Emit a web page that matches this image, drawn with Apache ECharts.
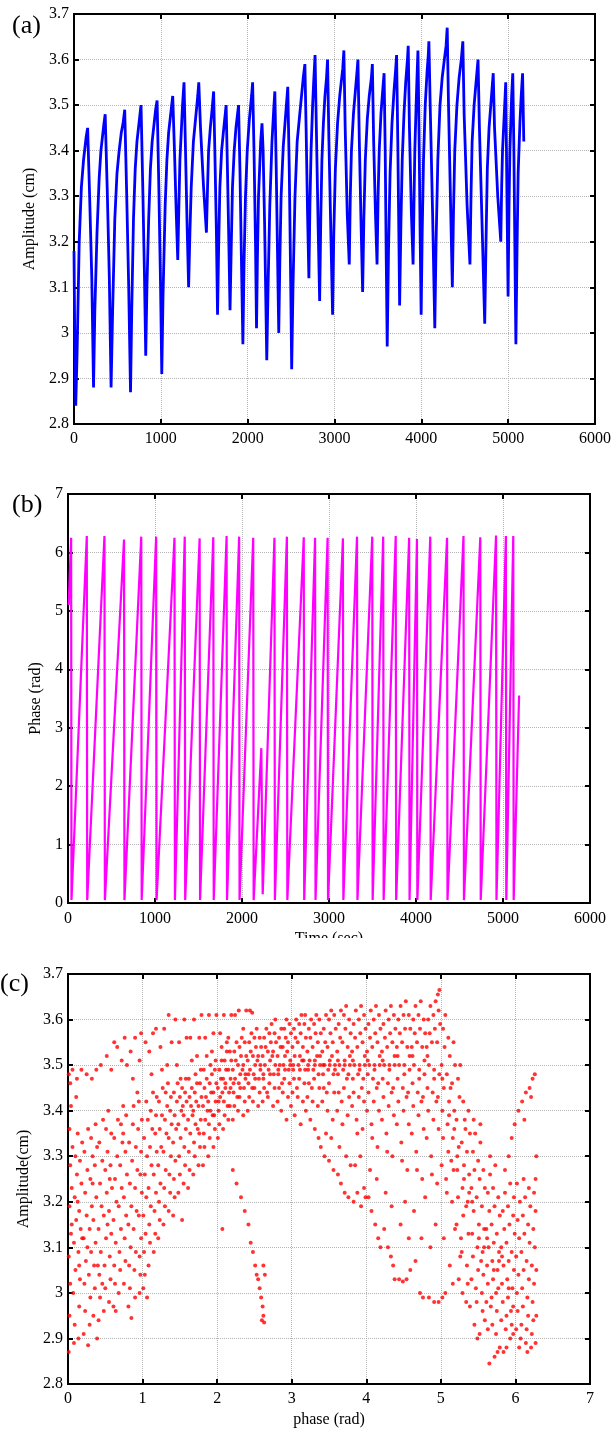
<!DOCTYPE html>
<html><head><meta charset="utf-8">
<script src="https://cdn.jsdelivr.net/npm/echarts/dist/echarts.min.js"></script>
<style>html,body{margin:0;padding:0;background:#fff}#main{width:614px;height:1432px}</style>
</head><body><div id="main"></div>
<script>
// ---------- (a) amplitude vs time : [time, amplitude(cm)] ----------
const ampPoints = [
[0,3.18],[8,3.00],[20,2.84],[35,2.95],[60,3.20],[85,3.32],[110,3.38],[140,3.43],[157,3.45],[180,3.30],[205,3.12],[225,2.88],
[240,3.05],[265,3.22],[290,3.34],[310,3.40],[345,3.46],[359,3.48],[382,3.32],[407,3.12],[427,2.88],
[445,3.05],[470,3.25],[495,3.35],[520,3.40],[545,3.44],[565,3.46],[584,3.49],[605,3.32],[630,3.10],[651,2.87],
[665,3.05],[685,3.25],[705,3.36],[725,3.42],[760,3.48],[772,3.50],[792,3.32],[812,3.12],[826,2.95],
[840,3.10],[860,3.25],[880,3.36],[900,3.42],[940,3.49],[957,3.51],[977,3.32],[997,3.10],[1011,2.91],
[1025,3.08],[1050,3.28],[1070,3.38],[1090,3.44],[1125,3.50],[1137,3.52],[1157,3.40],[1178,3.26],[1195,3.16],
[1208,3.28],[1220,3.38],[1250,3.50],[1267,3.55],[1282,3.42],[1302,3.24],[1320,3.10],
[1335,3.22],[1350,3.32],[1375,3.42],[1395,3.46],[1425,3.52],[1437,3.55],[1457,3.45],[1492,3.32],[1525,3.22],
[1538,3.32],[1550,3.40],[1570,3.45],[1590,3.49],[1608,3.53],[1622,3.40],[1640,3.22],[1653,3.04],
[1665,3.18],[1680,3.32],[1700,3.40],[1720,3.44],[1752,3.50],[1767,3.36],[1783,3.20],[1797,3.05],
[1810,3.18],[1825,3.32],[1845,3.40],[1865,3.45],[1895,3.50],[1911,3.36],[1930,3.14],[1945,2.975],
[1958,3.15],[1975,3.30],[1995,3.40],[2020,3.47],[2045,3.52],[2057,3.55],[2073,3.40],[2090,3.20],[2102,3.01],
[2112,3.16],[2125,3.30],[2150,3.42],[2165,3.46],[2178,3.40],[2195,3.24],[2210,3.06],[2220,2.94],
[2235,3.10],[2255,3.28],[2280,3.42],[2300,3.49],[2313,3.53],[2329,3.36],[2345,3.16],[2358,3.00],
[2370,3.15],[2385,3.30],[2410,3.41],[2430,3.46],[2450,3.51],[2462,3.54],[2479,3.36],[2495,3.12],[2507,2.92],
[2522,3.10],[2545,3.30],[2570,3.42],[2600,3.48],[2640,3.56],[2659,3.59],[2673,3.45],[2690,3.26],[2705,3.12],
[2717,3.28],[2730,3.40],[2748,3.50],[2760,3.55],[2776,3.61],[2791,3.45],[2812,3.23],[2829,3.07],
[2842,3.25],[2855,3.38],[2872,3.46],[2890,3.52],[2908,3.56],[2920,3.60],[2936,3.42],[2960,3.20],[2978,3.04],
[2992,3.22],[3010,3.36],[3035,3.46],[3060,3.52],[3095,3.58],[3108,3.62],[3123,3.45],[3147,3.26],[3170,3.15],
[3182,3.30],[3195,3.40],[3218,3.48],[3240,3.53],[3262,3.58],[3270,3.60],[3286,3.42],[3307,3.23],[3324,3.09],
[3338,3.25],[3355,3.38],[3378,3.47],[3400,3.52],[3425,3.56],[3436,3.59],[3451,3.42],[3472,3.26],[3490,3.15],
[3502,3.30],[3515,3.40],[3535,3.48],[3550,3.52],[3571,3.57],[3584,3.40],[3596,3.16],[3607,2.97],
[3622,3.18],[3640,3.35],[3662,3.46],[3685,3.53],[3705,3.58],[3715,3.61],[3729,3.42],[3741,3.22],[3750,3.06],
[3765,3.24],[3780,3.38],[3800,3.48],[3820,3.55],[3840,3.60],[3849,3.63],[3863,3.45],[3886,3.26],[3905,3.15],
[3915,3.28],[3925,3.40],[3940,3.50],[3950,3.56],[3961,3.62],[3973,3.45],[3986,3.22],[3998,3.04],
[4010,3.22],[4025,3.38],[4045,3.50],[4065,3.57],[4080,3.61],[4087,3.64],[4102,3.50],[4130,3.26],[4155,3.01],
[4170,3.20],[4190,3.38],[4215,3.50],[4240,3.56],[4265,3.60],[4285,3.63],[4298,3.67],[4313,3.50],[4337,3.28],[4357,3.10],
[4370,3.26],[4385,3.40],[4410,3.50],[4435,3.56],[4460,3.60],[4478,3.64],[4493,3.48],[4527,3.28],[4560,3.15],
[4572,3.30],[4585,3.42],[4608,3.50],[4630,3.55],[4653,3.60],[4669,3.45],[4702,3.22],[4730,3.02],
[4745,3.20],[4760,3.36],[4780,3.45],[4800,3.50],[4828,3.57],[4843,3.45],[4880,3.30],[4915,3.20],
[4925,3.32],[4935,3.40],[4960,3.50],[4972,3.55],[4986,3.30],[4999,3.08],
[5010,3.28],[5020,3.40],[5040,3.52],[5053,3.57],[5066,3.40],[5079,3.15],[5089,2.975],
[5102,3.18],[5115,3.35],[5135,3.46],[5150,3.52],[5166,3.57],[5180,3.42]
];

// ---------- (b) phase vs time : [time, phase(rad)] ----------
const phasePoints = [
[8,5.10],[36,6.25],[40,0.05],[216,6.28],[221,0.05],[419,6.28],[424,0.05],[644,6.22],[649,0.05],
[842,6.27],[847,0.05],[1013,6.27],[1018,0.05],[1224,6.25],[1229,0.05],[1342,6.27],[1347,0.05],
[1513,6.24],[1518,0.05],[1670,6.26],[1675,0.05],[1823,6.28],[1828,0.05],[1967,6.27],[1972,0.05],
[2129,6.25],[2134,0.05],[2222,2.65],[2238,0.15],[2373,6.25],[2378,0.05],[2516,6.27],[2521,0.05],
[2710,6.26],[2715,0.05],[2840,6.25],[2845,0.05],[2984,6.25],[2989,0.05],[3160,6.24],[3165,0.05],
[3322,6.27],[3327,0.05],[3497,6.27],[3502,0.05],[3623,6.27],[3628,0.05],[3767,6.28],[3772,0.05],
[3921,6.25],[3926,0.05],[4011,6.23],[4016,0.05],[4164,6.27],[4169,0.05],[4357,6.25],[4362,0.05],
[4546,6.28],[4551,0.05],[4739,6.26],[4744,0.05],[4920,6.29],[4925,0.05],[5033,6.28],[5038,0.05],
[5118,6.28],[5123,0.05],[5185,3.55]
];

// ---------- (c) amplitude vs phase : [phase(rad), amplitude(cm)] ----------
const cloudLeft = [
[0.01,2.87],[0.02,2.95],[0.03,3.02],[0.01,3.08],[0.04,3.13],[0.02,3.19],[0.05,3.23],[0.03,3.28],[0.06,3.32],[0.02,3.36],[0.04,3.41],[0.03,3.46],[0.01,3.48],[0.06,3.49],[0.08,2.89],[0.09,2.93],[0.07,3.00],[0.10,3.05],[0.08,3.11],[0.11,3.16],[0.09,3.21],[0.12,3.26],[0.10,3.30],[0.13,3.35],[0.11,3.43],[0.12,3.47],[0.14,2.90],[0.15,2.97],[0.16,3.03],[0.14,3.09],[0.17,3.14],[0.15,3.18],[0.18,3.24],[0.16,3.29],[0.19,3.33],[0.18,3.49],[0.15,3.06],[0.19,3.12],[0.05,3.15],[0.13,3.20],
[0.21,2.91],[0.23,2.96],[0.22,3.02],[0.24,3.07],[0.21,3.12],[0.25,3.17],[0.23,3.22],[0.26,3.27],[0.22,3.31],[0.27,3.36],[0.27,2.885],[0.29,2.93],[0.30,2.99],[0.28,3.04],[0.31,3.09],[0.29,3.14],[0.32,3.19],[0.30,3.25],[0.33,3.30],[0.31,3.34],[0.34,2.95],[0.36,3.01],[0.35,3.06],[0.37,3.11],[0.34,3.16],[0.38,3.21],[0.36,3.28],[0.39,3.32],[0.37,3.37],[0.25,3.48],[0.32,3.47],[0.38,3.49],[0.39,2.90],[0.26,3.10],[0.33,3.24],
[0.41,2.94],[0.43,2.99],[0.42,3.04],[0.44,3.09],[0.41,3.14],[0.45,3.19],[0.43,3.24],[0.46,3.29],[0.42,3.33],[0.47,3.38],[0.48,2.96],[0.50,3.01],[0.49,3.06],[0.51,3.12],[0.48,3.17],[0.52,3.22],[0.50,3.27],[0.53,3.31],[0.51,3.36],[0.54,3.40],[0.55,2.98],[0.57,3.03],[0.56,3.08],[0.58,3.13],[0.55,3.18],[0.59,3.23],[0.57,3.28],[0.58,3.35],[0.44,3.50],[0.52,3.52],[0.58,3.49],[0.46,3.02],[0.53,3.15],[0.56,3.25],[0.40,3.06],
[0.61,2.97],[0.63,3.02],[0.62,3.06],[0.64,3.11],[0.61,3.16],[0.65,3.20],[0.63,3.25],[0.66,3.30],[0.62,3.34],[0.67,3.38],[0.68,3.00],[0.70,3.05],[0.69,3.09],[0.71,3.14],[0.68,3.19],[0.72,3.23],[0.70,3.28],[0.73,3.33],[0.71,3.37],[0.74,3.41],[0.75,3.02],[0.77,3.07],[0.76,3.12],[0.78,3.17],[0.75,3.21],[0.79,3.26],[0.77,3.31],[0.78,3.39],[0.62,3.55],[0.66,3.54],[0.72,3.51],[0.76,3.56],[0.79,3.50],[0.64,2.96],[0.74,3.35],
[0.81,2.97],[0.83,3.01],[0.82,3.06],[0.84,3.10],[0.81,3.15],[0.85,3.19],[0.83,3.24],[0.86,3.29],[0.82,3.33],[0.87,3.37],[0.88,3.41],[0.85,2.945],[0.90,2.99],[0.89,3.05],[0.91,3.09],[0.88,3.14],[0.92,3.18],[0.90,3.23],[0.93,3.27],[0.91,3.32],[0.94,3.36],[0.95,3.42],[0.96,3.00],[0.97,3.04],[0.96,3.08],[0.98,3.12],[0.95,3.17],[0.99,3.22],[0.97,3.26],[0.98,3.31],[0.99,3.38],[0.84,3.53],[0.90,3.56],[0.96,3.51],[0.98,3.57],[0.87,3.47],[0.93,3.44],
[1.01,3.01],[1.03,3.04],[1.02,3.09],[1.04,3.13],[1.01,3.17],[1.05,3.21],[1.03,3.26],[1.06,3.30],[1.02,3.34],[1.07,3.38],[1.05,3.42],[1.08,3.06],[1.10,3.11],[1.09,3.15],[1.11,3.19],[1.08,3.23],[1.12,3.28],[1.10,3.32],[1.13,3.36],[1.11,3.40],[1.14,3.44],[1.15,3.09],[1.17,3.13],[1.16,3.18],[1.18,3.22],[1.15,3.26],[1.19,3.31],[1.17,3.35],[1.18,3.39],[1.19,3.43],[1.04,3.55],[1.09,3.53],[1.14,3.57],[1.18,3.58],[1.12,3.48],[1.06,2.99],
[1.21,3.12],[1.23,3.16],[1.22,3.20],[1.24,3.24],[1.21,3.28],[1.25,3.32],[1.23,3.36],[1.26,3.39],[1.22,3.42],[1.27,3.45],[1.28,3.15],[1.30,3.19],[1.29,3.23],[1.31,3.27],[1.28,3.31],[1.32,3.35],[1.30,3.38],[1.33,3.41],[1.31,3.44],[1.34,3.46],[1.35,3.18],[1.37,3.22],[1.36,3.26],[1.38,3.30],[1.35,3.34],[1.39,3.37],[1.37,3.40],[1.38,3.43],[1.24,3.54],[1.29,3.58],[1.35,3.61],[1.39,3.55],[1.26,3.49],[1.33,3.50],
[1.41,3.17],[1.43,3.21],[1.42,3.25],[1.44,3.29],[1.41,3.33],[1.45,3.36],[1.43,3.39],[1.46,3.42],[1.42,3.44],[1.47,3.46],[1.48,3.22],[1.50,3.26],[1.49,3.30],[1.51,3.34],[1.48,3.37],[1.52,3.40],[1.50,3.43],[1.53,3.45],[1.51,3.47],[1.54,3.41],[1.55,3.24],[1.57,3.28],[1.56,3.32],[1.58,3.36],[1.55,3.39],[1.59,3.42],[1.57,3.44],[1.58,3.47],[1.44,3.60],[1.49,3.55],[1.56,3.60],[1.59,3.56],[1.46,3.50],[1.53,3.16],
[1.61,3.23],[1.63,3.27],[1.62,3.31],[1.64,3.35],[1.61,3.38],[1.65,3.41],[1.63,3.43],[1.66,3.45],[1.62,3.47],[1.67,3.39],[1.68,3.26],[1.70,3.30],[1.69,3.33],[1.71,3.37],[1.68,3.40],[1.72,3.42],[1.70,3.44],[1.73,3.46],[1.71,3.48],[1.74,3.36],[1.75,3.28],[1.77,3.32],[1.76,3.35],[1.78,3.38],[1.75,3.41],[1.79,3.43],[1.77,3.46],[1.78,3.49],[1.64,3.56],[1.69,3.60],[1.76,3.56],[1.79,3.61],[1.66,3.51],[1.73,3.52],
[1.81,3.28],[1.83,3.32],[1.82,3.35],[1.84,3.38],[1.81,3.41],[1.85,3.43],[1.83,3.45],[1.86,3.47],[1.82,3.49],[1.87,3.40],[1.88,3.30],[1.90,3.34],[1.89,3.37],[1.91,3.40],[1.88,3.42],[1.92,3.44],[1.90,3.46],[1.93,3.48],[1.91,3.50],[1.94,3.39],[1.95,3.32],[1.97,3.36],[1.96,3.39],[1.98,3.42],[1.95,3.44],[1.99,3.46],[1.97,3.49],[1.98,3.51],[1.84,3.56],[1.89,3.61],[1.95,3.57],[1.99,3.61],[1.86,3.52],[1.93,3.53]
];
const cloudMiddle = [
[2.01,3.34],[2.03,3.37],[2.02,3.40],[2.04,3.43],[2.01,3.45],[2.05,3.47],[2.03,3.49],[2.06,3.51],[2.02,3.42],[2.07,3.44],[2.08,3.36],[2.10,3.39],[2.09,3.42],[2.11,3.45],[2.08,3.47],[2.12,3.49],[2.10,3.51],[2.13,3.53],[2.11,3.46],[2.14,3.41],[2.15,3.38],[2.17,3.41],[2.16,3.44],[2.18,3.47],[2.15,3.49],[2.19,3.51],[2.17,3.53],[2.18,3.45],[2.04,3.57],[2.09,3.61],[2.15,3.56],[2.19,3.61],[2.07,3.14],[2.06,3.54],[2.13,3.55],
[2.21,3.38],[2.23,3.41],[2.22,3.44],[2.24,3.47],[2.21,3.49],[2.25,3.51],[2.23,3.53],[2.26,3.55],[2.22,3.46],[2.27,3.43],[2.28,3.40],[2.30,3.43],[2.29,3.46],[2.31,3.48],[2.28,3.50],[2.32,3.52],[2.30,3.54],[2.33,3.56],[2.31,3.45],[2.34,3.49],[2.35,3.39],[2.37,3.42],[2.36,3.45],[2.38,3.48],[2.35,3.50],[2.39,3.52],[2.37,3.55],[2.38,3.47],[2.24,3.61],[2.29,3.62],[2.35,3.58],[2.39,3.62],[2.21,3.27],[2.26,3.24],[2.32,3.21],[2.37,3.18],
[2.41,3.40],[2.43,3.43],[2.42,3.46],[2.44,3.49],[2.41,3.51],[2.45,3.53],[2.43,3.55],[2.46,3.57],[2.42,3.48],[2.47,3.45],[2.48,3.42],[2.50,3.45],[2.49,3.48],[2.51,3.50],[2.48,3.52],[2.52,3.54],[2.50,3.56],[2.53,3.58],[2.51,3.47],[2.54,3.51],[2.55,3.41],[2.57,3.44],[2.56,3.47],[2.58,3.49],[2.55,3.52],[2.59,3.54],[2.57,3.56],[2.58,3.50],[2.44,3.62],[2.47,3.615],[2.42,3.15],[2.45,3.11],[2.48,3.09],[2.51,3.06],[2.53,3.04],[2.55,3.03],[2.57,3.01],[2.59,2.99],
[2.61,3.42],[2.63,3.45],[2.62,3.48],[2.64,3.50],[2.61,3.52],[2.65,3.54],[2.63,3.56],[2.66,3.58],[2.62,3.47],[2.67,3.44],[2.68,3.43],[2.70,3.46],[2.69,3.49],[2.71,3.51],[2.68,3.53],[2.72,3.55],[2.70,3.57],[2.73,3.59],[2.71,3.48],[2.74,3.52],[2.75,3.41],[2.77,3.45],[2.76,3.48],[2.78,3.50],[2.75,3.53],[2.79,3.55],[2.77,3.57],[2.78,3.60],[2.61,2.97],[2.62,2.95],[2.60,2.94],[2.63,2.935],[2.64,3.04],[2.62,3.06],
[2.81,3.42],[2.83,3.45],[2.82,3.48],[2.84,3.50],[2.81,3.52],[2.85,3.54],[2.83,3.56],[2.86,3.58],[2.82,3.49],[2.87,3.46],[2.88,3.44],[2.90,3.47],[2.89,3.50],[2.91,3.52],[2.88,3.54],[2.92,3.56],[2.90,3.58],[2.93,3.60],[2.91,3.49],[2.94,3.53],[2.95,3.43],[2.97,3.46],[2.96,3.49],[2.98,3.51],[2.95,3.55],[2.99,3.57],[2.97,3.59],[2.98,3.50],[2.86,3.40],[2.93,3.38],[2.99,3.41],
[3.01,3.44],[3.03,3.47],[3.02,3.50],[3.04,3.52],[3.01,3.54],[3.05,3.56],[3.03,3.58],[3.06,3.60],[3.02,3.49],[3.07,3.45],[3.08,3.43],[3.10,3.47],[3.09,3.50],[3.11,3.52],[3.08,3.55],[3.12,3.57],[3.10,3.59],[3.13,3.61],[3.11,3.49],[3.14,3.51],[3.15,3.42],[3.17,3.46],[3.18,3.49],[3.16,3.51],[3.15,3.54],[3.19,3.56],[3.17,3.59],[3.18,3.61],[3.04,3.39],[3.12,3.37],[3.19,3.40],
[3.21,3.43],[3.23,3.46],[3.22,3.49],[3.24,3.51],[3.21,3.53],[3.25,3.56],[3.23,3.58],[3.26,3.60],[3.22,3.50],[3.27,3.45],[3.28,3.42],[3.30,3.47],[3.29,3.49],[3.31,3.51],[3.28,3.54],[3.32,3.57],[3.30,3.59],[3.33,3.61],[3.31,3.50],[3.34,3.52],[3.35,3.41],[3.37,3.45],[3.36,3.48],[3.38,3.50],[3.35,3.55],[3.39,3.57],[3.37,3.60],[3.38,3.52],[3.25,3.38],[3.31,3.36],[3.36,3.34],[3.39,3.32],
[3.41,3.42],[3.43,3.45],[3.42,3.48],[3.44,3.50],[3.41,3.53],[3.45,3.55],[3.43,3.58],[3.46,3.61],[3.42,3.50],[3.47,3.44],[3.48,3.40],[3.50,3.46],[3.49,3.49],[3.51,3.51],[3.48,3.54],[3.52,3.57],[3.50,3.60],[3.53,3.62],[3.51,3.50],[3.54,3.52],[3.55,3.38],[3.57,3.44],[3.56,3.48],[3.58,3.50],[3.55,3.55],[3.59,3.58],[3.57,3.61],[3.58,3.49],[3.44,3.30],[3.50,3.29],[3.56,3.27],[3.46,3.35],[3.53,3.34],
[3.61,3.40],[3.63,3.44],[3.62,3.48],[3.64,3.50],[3.61,3.53],[3.65,3.56],[3.63,3.59],[3.66,3.62],[3.62,3.51],[3.67,3.42],[3.68,3.37],[3.70,3.45],[3.69,3.49],[3.71,3.51],[3.68,3.55],[3.72,3.58],[3.70,3.61],[3.73,3.63],[3.71,3.50],[3.74,3.47],[3.75,3.39],[3.77,3.43],[3.76,3.48],[3.78,3.50],[3.75,3.54],[3.79,3.57],[3.77,3.60],[3.78,3.52],[3.62,3.26],[3.66,3.24],[3.71,3.22],[3.76,3.21],[3.64,3.32],[3.73,3.30],[3.79,3.28],
[3.81,3.41],[3.83,3.44],[3.82,3.47],[3.84,3.50],[3.81,3.53],[3.85,3.56],[3.83,3.59],[3.86,3.62],[3.82,3.51],[3.87,3.38],[3.88,3.35],[3.90,3.43],[3.89,3.48],[3.91,3.50],[3.88,3.54],[3.92,3.57],[3.90,3.60],[3.93,3.63],[3.91,3.49],[3.94,3.45],[3.95,3.36],[3.97,3.42],[3.96,3.47],[3.98,3.50],[3.95,3.55],[3.99,3.58],[3.97,3.61],[3.98,3.52],[3.83,3.20],[3.88,3.22],[3.93,3.19],[3.97,3.23],[3.99,3.21],[3.85,3.28],[3.92,3.30]
];
const cloudRight = [
[4.01,3.40],[4.03,3.44],[4.02,3.48],[4.04,3.50],[4.01,3.53],[4.05,3.56],[4.03,3.59],[4.06,3.62],[4.02,3.51],[4.07,3.37],[4.08,3.34],[4.10,3.42],[4.09,3.47],[4.11,3.50],[4.08,3.54],[4.12,3.57],[4.10,3.60],[4.13,3.63],[4.11,3.49],[4.14,3.45],[4.15,3.32],[4.17,3.40],[4.16,3.46],[4.18,3.50],[4.15,3.55],[4.19,3.58],[4.17,3.61],[4.18,3.52],[4.03,3.21],[4.07,3.18],[4.12,3.15],[4.16,3.12],[4.19,3.10],[4.05,3.27],[4.14,3.25],
[4.21,3.38],[4.23,3.43],[4.22,3.47],[4.24,3.50],[4.21,3.53],[4.25,3.56],[4.23,3.59],[4.26,3.62],[4.22,3.51],[4.27,3.35],[4.28,3.31],[4.30,3.41],[4.29,3.46],[4.31,3.50],[4.28,3.54],[4.32,3.57],[4.30,3.60],[4.33,3.63],[4.31,3.49],[4.34,3.44],[4.35,3.30],[4.37,3.39],[4.36,3.45],[4.38,3.50],[4.35,3.55],[4.39,3.58],[4.37,3.61],[4.38,3.52],[4.24,3.14],[4.29,3.10],[4.33,3.08],[4.36,3.06],[4.38,3.03],[4.26,3.22],[4.34,3.19],
[4.41,3.37],[4.43,3.42],[4.42,3.47],[4.44,3.50],[4.41,3.54],[4.45,3.57],[4.43,3.60],[4.46,3.63],[4.42,3.52],[4.47,3.33],[4.48,3.29],[4.50,3.40],[4.49,3.45],[4.51,3.50],[4.48,3.55],[4.52,3.58],[4.50,3.61],[4.53,3.64],[4.51,3.48],[4.54,3.43],[4.55,3.27],[4.57,3.37],[4.56,3.44],[4.58,3.49],[4.55,3.54],[4.59,3.58],[4.57,3.61],[4.58,3.52],[4.44,3.03],[4.49,3.025],[4.54,3.03],[4.59,3.05],[4.46,3.15],[4.52,3.20],[4.57,3.12],
[4.61,3.35],[4.63,3.41],[4.62,3.46],[4.64,3.50],[4.61,3.54],[4.65,3.57],[4.63,3.60],[4.66,3.63],[4.62,3.52],[4.67,3.31],[4.68,3.27],[4.70,3.39],[4.69,3.44],[4.71,3.49],[4.68,3.55],[4.72,3.58],[4.70,3.61],[4.73,3.64],[4.71,3.47],[4.74,3.42],[4.75,3.25],[4.77,3.36],[4.76,3.43],[4.78,3.48],[4.75,3.54],[4.79,3.57],[4.77,3.60],[4.78,3.51],[4.66,3.07],[4.72,3.00],[4.76,2.99],[4.64,3.18],[4.74,3.12],[4.79,3.21],
[4.81,3.34],[4.83,3.40],[4.82,3.45],[4.84,3.50],[4.81,3.54],[4.85,3.57],[4.83,3.60],[4.86,3.63],[4.82,3.52],[4.87,3.30],[4.88,3.26],[4.90,3.38],[4.89,3.44],[4.91,3.49],[4.88,3.55],[4.92,3.58],[4.90,3.61],[4.93,3.64],[4.91,3.47],[4.94,3.42],[4.95,3.24],[4.97,3.36],[4.96,3.43],[4.98,3.48],[4.95,3.55],[4.99,3.59],[4.97,3.62],[4.98,3.665],[4.96,3.655],[4.84,2.99],[4.91,2.98],[4.97,2.98],[4.86,3.10],[4.93,3.15],
[5.01,3.28],[5.03,3.34],[5.02,3.40],[5.04,3.45],[5.01,3.50],[5.05,3.54],[5.03,3.58],[5.06,3.61],[5.02,3.47],[5.07,3.25],[5.08,3.22],[5.10,3.31],[5.09,3.37],[5.11,3.42],[5.08,3.48],[5.12,3.52],[5.10,3.56],[5.13,3.45],[5.11,3.39],[5.14,3.29],[5.15,3.20],[5.17,3.27],[5.16,3.34],[5.18,3.40],[5.15,3.46],[5.19,3.50],[5.17,3.55],[5.18,3.36],[5.02,2.99],[5.06,3.00],[5.12,3.06],[5.16,3.02],[5.04,3.12],[5.19,3.14]
];
const cloudFall = [
[5.21,3.15],[5.23,3.21],[5.22,3.27],[5.24,3.32],[5.21,3.38],[5.25,3.43],[5.23,3.47],[5.26,3.50],[5.22,3.30],[5.27,3.12],[5.28,3.09],[5.30,3.17],[5.29,3.23],[5.31,3.28],[5.28,3.33],[5.32,3.38],[5.30,3.42],[5.33,3.36],[5.31,3.25],[5.34,3.19],[5.35,3.06],[5.37,3.13],[5.36,3.20],[5.38,3.26],[5.35,3.31],[5.39,3.35],[5.37,3.40],[5.38,3.22],[5.24,3.03],[5.29,3.00],[5.34,2.98],[5.39,2.97],[5.26,3.08],[5.36,3.02],
[5.41,3.03],[5.43,3.08],[5.42,3.13],[5.44,3.18],[5.41,3.23],[5.45,3.27],[5.43,3.31],[5.46,3.35],[5.42,3.20],[5.47,3.01],[5.48,2.98],[5.50,3.05],[5.49,3.10],[5.51,3.15],[5.48,3.21],[5.52,3.25],[5.50,3.29],[5.53,3.33],[5.51,3.12],[5.54,3.07],[5.55,3.00],[5.57,3.04],[5.56,3.09],[5.58,3.14],[5.55,3.19],[5.59,3.23],[5.57,3.27],[5.58,3.10],[5.45,2.93],[5.49,2.90],[5.52,2.91],[5.56,2.96],[5.44,3.38],[5.53,3.37],[5.59,2.94],
[5.61,2.98],[5.63,3.02],[5.62,3.06],[5.64,3.10],[5.61,3.14],[5.65,3.18],[5.63,3.22],[5.66,3.26],[5.62,3.12],[5.67,2.97],[5.68,2.99],[5.70,3.03],[5.69,3.07],[5.71,3.11],[5.68,3.15],[5.72,3.19],[5.70,3.23],[5.73,3.28],[5.71,3.05],[5.74,3.00],[5.75,2.96],[5.77,3.01],[5.76,3.05],[5.78,3.09],[5.75,3.13],[5.79,3.17],[5.77,3.21],[5.78,3.07],[5.65,2.845],[5.72,2.86],[5.76,2.87],[5.79,2.88],[5.63,2.92],[5.69,2.93],[5.74,2.91],[5.66,3.30],
[5.81,2.94],[5.83,2.98],[5.82,3.02],[5.84,3.06],[5.81,3.10],[5.85,3.14],[5.83,3.18],[5.86,3.22],[5.82,3.08],[5.87,2.92],[5.88,2.95],[5.90,2.99],[5.89,3.03],[5.91,3.07],[5.88,3.11],[5.92,3.15],[5.90,3.19],[5.93,3.24],[5.91,3.01],[5.94,2.96],[5.95,2.93],[5.97,2.97],[5.96,3.01],[5.98,3.05],[5.95,3.09],[5.99,3.13],[5.97,3.17],[5.98,3.21],[5.84,2.87],[5.88,2.88],[5.93,2.90],[5.97,2.91],[5.91,3.30],[5.95,3.34],[5.99,3.37],[5.86,3.27],
[6.01,2.92],[6.03,2.96],[6.02,3.00],[6.04,3.04],[6.01,3.08],[6.05,3.12],[6.03,3.16],[6.06,3.20],[6.02,3.24],[6.07,2.90],[6.08,2.93],[6.10,2.97],[6.09,3.01],[6.11,3.05],[6.08,3.09],[6.12,3.13],[6.10,3.17],[6.13,3.21],[6.11,3.25],[6.14,2.89],[6.15,2.92],[6.17,2.95],[6.16,2.99],[6.18,3.03],[6.15,3.07],[6.19,3.11],[6.17,3.15],[6.20,3.19],[6.18,3.23],[6.21,2.88],[6.22,2.91],[6.24,2.94],[6.23,2.98],[6.25,3.02],[6.22,3.06],[6.26,3.10],[6.24,3.14],[6.27,3.18],[6.25,3.22],[6.27,2.89],[6.28,2.95],[6.28,3.05],[6.27,3.25],[6.28,3.30],[6.04,3.40],[6.09,3.42],[6.14,3.44],[6.19,3.45],[6.23,3.47],[6.26,3.48],[6.21,3.43],[6.12,3.38],[6.05,2.88],[6.16,2.87]
];

// ---------- axes ----------
const timeTicks = {min: 0, max: 6000, interval: 1000};
const ampTicks = {min: 2.8, max: 3.7, interval: 0.1};
const phaseTicks = {min: 0, max: 7, interval: 1};
const phaseXTicks = {min: 0, max: 7, interval: 1};

const FONT = 'Liberation Serif';
const plain = v => String(Math.round(v * 1000) / 1000);
const chart = echarts.init(document.getElementById('main'), null, {renderer: 'canvas'});

const grids = [
  {left: 74, top: 14, width: 523, height: 410},
  {left: 68, top: 494, width: 522, height: 409},
  {left: 68, top: 974, width: 522, height: 410}
].map(g => Object.assign({show: true, borderColor: '#000', borderWidth: 2, backgroundColor: 'transparent'}, g));

function label(margin) {
  return {show: true, color: '#000', fontFamily: FONT, fontSize: 16, margin: margin, showMinLabel: true, showMaxLabel: true, formatter: plain};
}
function mainAxis(gi, ticks, pos, extra) {
  return Object.assign({
    type: 'value', gridIndex: gi, position: pos,
    min: ticks.min, max: ticks.max, interval: ticks.interval,
    axisLine: {show: true, onZero: false, lineStyle: {color: '#000', width: 2}},
    axisTick: {show: true, inside: true, length: 5, lineStyle: {color: '#000', width: 2}},
    axisLabel: label(6),
    splitLine: {show: true, lineStyle: {color: '#b4b4b4', type: 'dotted', width: 1}},
    nameTextStyle: {color: '#000', fontFamily: FONT, fontSize: 16}
  }, extra || {});
}
function mirrorAxis(gi, ticks, pos) {
  return {
    type: 'value', gridIndex: gi, position: pos,
    min: ticks.min, max: ticks.max, interval: ticks.interval,
    axisLine: {show: true, onZero: false, lineStyle: {color: '#000', width: 2}},
    axisTick: {show: true, inside: true, length: 5, lineStyle: {color: '#000', width: 2}},
    axisLabel: {show: false}, splitLine: {show: false}
  };
}

const xAxes = [
  mainAxis(0, timeTicks, 'bottom', {axisLabel: label(7)}),
  mainAxis(1, timeTicks, 'bottom', {name: 'Time (sec)', nameLocation: 'middle', nameGap: 28, axisLabel: label(8)}),
  mainAxis(2, phaseXTicks, 'bottom', {name: 'phase (rad)', nameLocation: 'middle', nameGap: 28, axisLabel: label(7)}),
  mirrorAxis(0, timeTicks, 'top'),
  mirrorAxis(1, timeTicks, 'top'),
  mirrorAxis(2, phaseXTicks, 'top')
];
const yAxes = [
  mainAxis(0, ampTicks, 'left', {name: 'Amplitude (cm)', nameLocation: 'middle', nameRotate: 90, nameGap: 32, axisLabel: label(5)}),
  mainAxis(1, phaseTicks, 'left', {name: 'Phase (rad)', nameLocation: 'middle', nameRotate: 90, nameGap: 20, axisLabel: label(5)}),
  mainAxis(2, ampTicks, 'left', {name: 'Amplitude(cm)', nameLocation: 'middle', nameRotate: 90, nameGap: 26, axisLabel: label(5)}),
  mirrorAxis(0, ampTicks, 'right'),
  mirrorAxis(1, phaseTicks, 'right'),
  mirrorAxis(2, ampTicks, 'right')
];

chart.setOption({
  animation: false,
  backgroundColor: '#fff',
  grid: grids,
  xAxis: xAxes,
  yAxis: yAxes,
  series: [
    {type: 'line', xAxisIndex: 0, yAxisIndex: 0, data: ampPoints, showSymbol: false, symbol: 'none',
     lineStyle: {color: '#0000ff', width: 2.8}, z: 3},
    {type: 'line', xAxisIndex: 1, yAxisIndex: 1, data: phasePoints, showSymbol: false, symbol: 'none',
     lineStyle: {color: '#ff00ff', width: 2.2}, z: 3},
    {type: 'scatter', xAxisIndex: 2, yAxisIndex: 2, data: cloudLeft.concat(cloudMiddle, cloudRight, cloudFall),
     symbol: 'circle', symbolSize: 4, itemStyle: {color: '#ff0000'}, z: 3}
  ],
  graphic: [
    {type: 'text', left: 12, top: 13, style: {text: '(a)', font: '26px "Liberation Serif"', fill: '#000'}},
    {type: 'text', left: 12, top: 492, style: {text: '(b)', font: '26px "Liberation Serif"', fill: '#000'}},
    {type: 'text', left: 0, top: 971, style: {text: '(c)', font: '26px "Liberation Serif"', fill: '#000'}},
    {type: 'rect', left: 0, top: 938, shape: {width: 614, height: 24}, style: {fill: '#fff'}, z: 100}
  ]
});
</script></body></html>
